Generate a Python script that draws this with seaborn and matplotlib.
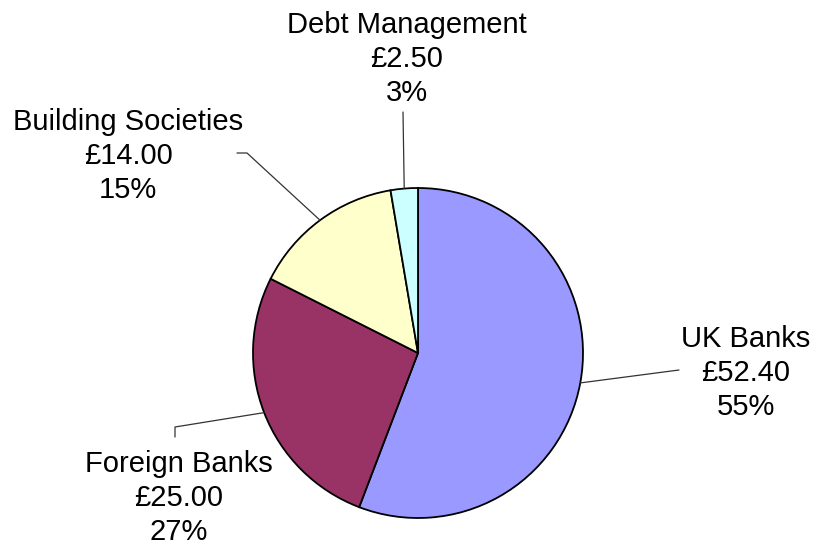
import numpy as np
import matplotlib
matplotlib.use('Agg')
import matplotlib.pyplot as plt
import seaborn as sns

# data
categories = ['UK Banks', 'Foreign Banks', 'Building Societies', 'Debt Management']
amounts = [52.40, 25.00, 14.00, 2.50]
percent_labels = ['55%', '27%', '15%', '3%']
colors = ['#9999FF', '#993366', '#FFFFCC', '#CCFFFF']

sns.set_theme(style='white')
plt.rcParams['font.family'] = ['Liberation Sans', 'DejaVu Sans']

W, H = 819, 547
CX, CY, R = 418, 353, 165  # pie centre / radius in pixels
LINE_STEP = 33.8           # pixels between label lines


def px(x, y):
    # pixel position -> data coords (pie radius = 1)
    return (x - CX) / R, (CY - y) / R


fig = plt.figure(figsize=(W / 100, H / 100), dpi=100)
ax = fig.add_axes([0, 0, 1, 1])
wedges, _ = ax.pie(amounts, colors=colors, startangle=90, counterclock=False,
                   wedgeprops=dict(edgecolor='black', linewidth=1.3))
ax.set_xlim(-CX / R, (W - CX) / R)
ax.set_ylim(-(H - CY) / R, CY / R)
ax.set_aspect('equal')
ax.axis('off')

# leader line bends and label anchor (centre x, first baseline y), pixels
leaders = [
    [(679, 370)],
    [(175, 427), (175, 437)],
    [(247, 153), (237, 153)],
    [(403, 112)],
]
label_pos = [(746, 347), (179, 472), (128, 130), (407, 33)]

for w, cat, amt, pct, pts, lp in zip(wedges, categories, amounts, percent_labels, leaders, label_pos):
    mid = np.deg2rad((w.theta1 + w.theta2) / 2)
    xs = [np.cos(mid)] + [px(*p)[0] for p in pts]
    ys = [np.sin(mid)] + [px(*p)[1] for p in pts]
    ax.plot(xs, ys, color='#333333', lw=0.9)
    for k, line in enumerate([cat, f'£{amt:.2f}', pct]):
        ax.text(*px(lp[0], lp[1] + k * LINE_STEP), line, ha='center', va='baseline',
                fontsize=21, color='black')

fig.savefig('out.png', dpi=100, facecolor='white')
